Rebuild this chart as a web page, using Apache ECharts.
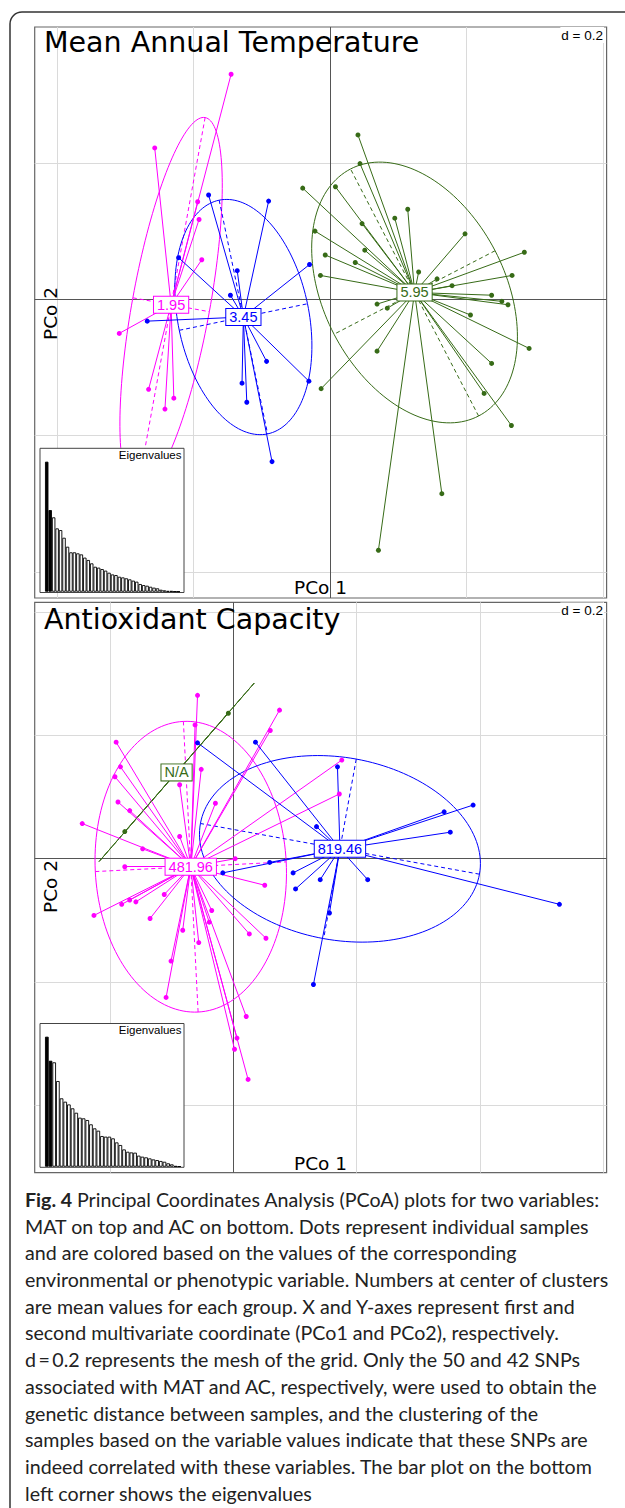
<!DOCTYPE html>
<html><head><meta charset="utf-8">
<script src="https://cdn.jsdelivr.net/npm/echarts@6/dist/echarts.min.js"></script>
<style>html,body{margin:0;padding:0;background:#fff}#c{width:625px;height:1508px}</style>
</head><body><div id="c"></div>
<script>
// ===== Panel 1: Mean Annual Temperature (PCo1 / PCo2 coordinates, grid mesh d = 0.2) =====
const matLabels = ['1.95', '3.45', '5.95'];
const matCenters = [[-0.233, -0.008], [-0.127, -0.026], [0.124, 0.010]];
const matMagenta = [[-0.145,0.330],[-0.257,0.222],[-0.194,0.143],[-0.192,0.117],[-0.188,0.058],[-0.309,-0.050],[-0.266,-0.132],[-0.229,-0.145],[-0.242,-0.161]];
const matBlue = [[-0.178,0.153],[-0.090,0.144],[-0.222,0.061],[-0.136,0.042],[-0.146,0.006],[-0.030,0.051],[-0.268,-0.032],[-0.093,-0.091],[-0.031,-0.120],[-0.129,-0.123],[-0.122,-0.151],[-0.085,-0.238]];
const matGreen = [[0.041,0.241],[0.044,0.199],[-0.040,0.163],[0.008,0.165],[0.114,0.132],[0.095,0.119],[0.047,0.111],[-0.022,0.100],[0.198,0.096],[0.051,0.072],[-0.007,0.065],[0.037,0.054],[0.285,0.069],[-0.014,0.035],[0.130,0.040],[0.157,0.030],[0.267,0.035],[0.179,0.020],[0.237,0.006],[0.252,-0.003],[0.261,-0.008],[0.206,-0.023],[0.069,-0.007],[0.084,-0.013],[0.292,-0.072],[0.069,-0.076],[0.237,-0.094],[-0.013,-0.131],[0.226,-0.138],[0.266,-0.185],[0.164,-0.285],[0.071,-0.368]];
// ellipse: [semi-major, semi-minor, angle of major axis in degrees]
const matEllipses = [[0.279, 0.057, 79.7], [0.175, 0.096, 101.7], [0.204, 0.133, -62.6]];
const matEigen = [1.000,0.628,0.572,0.487,0.474,0.415,0.346,0.303,0.303,0.295,0.287,0.262,0.244,0.218,0.192,0.185,0.174,0.162,0.146,0.133,0.128,0.115,0.110,0.103,0.095,0.085,0.077,0.059,0.051,0.046,0.038,0.031,0.026,0.015,0.010,0.005,0.005,0.002,0.001];

// ===== Panel 2: Antioxidant Capacity =====
const acLabels = ['481.96', '819.46', 'N/A'];
const acCenters = [[-0.069, -0.013], [0.173, 0.016], [-0.092, 0.140]];
const acMagenta = [[-0.058,0.265],[-0.062,0.217],[0.075,0.241],[0.060,0.208],[-0.190,0.189],[-0.183,0.149],[-0.192,0.133],[-0.052,0.145],[-0.087,0.120],[-0.187,0.092],[-0.168,0.078],[-0.029,0.090],[-0.245,0.057],[-0.087,0.036],[-0.147,0.016],[0.003,0.000],[-0.176,-0.013],[0.051,-0.043],[-0.226,-0.092],[-0.181,-0.074],[-0.168,-0.067],[-0.158,-0.070],[-0.112,-0.058],[-0.135,-0.097],[-0.035,-0.084],[-0.039,-0.103],[-0.082,-0.116],[-0.056,-0.136],[0.026,-0.122],[0.053,-0.129],[-0.101,-0.166],[-0.109,-0.225],[0.021,-0.256],[0.006,-0.291],[0.002,-0.309],[0.024,-0.358],[0.176,0.160],[0.172,0.105]];
const acBlue = [[-0.058,0.188],[0.036,0.189],[0.169,0.149],[0.135,0.052],[0.342,0.076],[0.389,0.087],[0.352,0.043],[0.059,-0.006],[-0.017,-0.023],[0.097,-0.023],[0.141,-0.034],[0.101,-0.049],[0.218,-0.034],[0.156,-0.088],[0.529,-0.074],[0.130,-0.204]];
const acGreen = [[-0.008,0.236],[-0.176,0.044]];
const acEllipses = [[0.236, 0.155, 92.9], [0.230, 0.148, -10.3], [0.192, 0, 49.0]];
const acEigen = [1.000,0.815,0.803,0.659,0.526,0.500,0.479,0.449,0.415,0.377,0.372,0.359,0.326,0.295,0.277,0.236,0.231,0.231,0.218,0.187,0.167,0.133,0.115,0.110,0.108,0.085,0.077,0.072,0.064,0.056,0.051,0.044,0.038,0.026,0.018,0.005,0.003];

// grid mesh positions (d = 0.2)
const grid1X = [-0.4, -0.2, 0.2, 0.4], grid1Y = [-0.4, -0.2, 0.2];
const grid2X = [-0.2, 0.2, 0.4, 0.6], grid2Y = [-0.4, -0.2, 0.2, 0.4];

const captionLines = [
  'Principal Coordinates Analysis (PCoA) plots for two variables:',
  'MAT on top and AC on bottom. Dots represent individual samples',
  'and are colored based on the values of the corresponding',
  'environmental or phenotypic variable. Numbers at center of clusters',
  'are mean values for each group. X and Y-axes represent first and',
  'second multivariate coordinate (PCo1 and PCo2), respectively.',
  'd\u2009=\u20090.2 represents the mesh of the grid. Only the 50 and 42 SNPs',
  'associated with MAT and AC, respectively, were used to obtain the',
  'genetic distance between samples, and the clustering of the',
  'samples based on the variable values indicate that these SNPs are',
  'indeed correlated with these variables. The bar plot on the bottom',
  'left corner shows the eigenvalues'
];

const MAG = '#ff00ff', BLU = '#0000ff', GRN = '#376b17';
const colors = [MAG, BLU, GRN];

function meshSeries(gi, xs, ys) {
  const ml = [];
  xs.forEach(v => ml.push({xAxis: v, lineStyle: {color: '#dadada', width: 1, type: 'solid'}}));
  ys.forEach(v => ml.push({yAxis: v, lineStyle: {color: '#dadada', width: 1, type: 'solid'}}));
  ml.push({xAxis: 0, lineStyle: {color: '#555', width: 1, type: 'solid'}});
  ml.push({yAxis: 0, lineStyle: {color: '#555', width: 1, type: 'solid'}});
  return {type: 'scatter', xAxisIndex: gi, yAxisIndex: gi, data: [[0, 0]], symbolSize: 0, silent: true, z: 1,
    markLine: {silent: true, symbol: ['none', 'none'], label: {show: false}, animation: false, data: ml, z: 1}};
}
function ellipseSeries(gi, center, e, color) {
  return {type: 'custom', xAxisIndex: gi, yAxisIndex: gi, silent: true, z: 2, data: [center],
    renderItem: function (params, api) {
      const a = e[0], b = e[1], th = e[2] * Math.PI / 180, c = Math.cos(th), s = Math.sin(th);
      const pts = [];
      for (let k = 0; k <= 160; k++) {
        const t = k / 160 * 2 * Math.PI, u = a * Math.cos(t), v = b * Math.sin(t);
        pts.push(api.coord([center[0] + u * c - v * s, center[1] + u * s + v * c]));
      }
      const a1 = api.coord([center[0] + a * c, center[1] + a * s]), a2 = api.coord([center[0] - a * c, center[1] - a * s]);
      const ch = [
        {type: 'polyline', shape: {points: pts}, style: {stroke: color, fill: 'none', lineWidth: 1}},
        {type: 'line', shape: {x1: a1[0], y1: a1[1], x2: a2[0], y2: a2[1]}, style: {stroke: color, lineWidth: 1, lineDash: [4, 3]}}
      ];
      if (b > 0) {
        const b1 = api.coord([center[0] - b * s, center[1] + b * c]), b2 = api.coord([center[0] + b * s, center[1] - b * c]);
        ch.push({type: 'line', shape: {x1: b1[0], y1: b1[1], x2: b2[0], y2: b2[1]}, style: {stroke: color, lineWidth: 1, lineDash: [4, 3]}});
      }
      return {type: 'group', children: ch};
    }};
}
function starSeries(gi, center, pts, color) {
  return {type: 'lines', coordinateSystem: 'cartesian2d', xAxisIndex: gi, yAxisIndex: gi, silent: true, z: 3,
    data: pts.map(p => ({coords: [center, p]})), lineStyle: {color: color, width: 1, opacity: 1}};
}
function pointSeries(gi, pts, color) {
  return {type: 'scatter', xAxisIndex: gi, yAxisIndex: gi, silent: true, z: 4, data: pts, symbol: 'circle', symbolSize: 5,
    itemStyle: {color: color, opacity: 1}};
}
function labelSeries(gi, center, txt, color) {
  return {type: 'scatter', xAxisIndex: gi, yAxisIndex: gi, silent: true, z: 6, data: [center], symbolSize: 1,
    itemStyle: {color: color, opacity: 1},
    label: {show: true, position: 'inside', formatter: txt, color: color, opacity: 1, fontSize: 14.5, fontFamily: '"Liberation Sans", Arial',
      backgroundColor: '#fff', borderColor: color, borderWidth: 1, padding: [1, 3, 0, 3], lineHeight: 15}};
}
function eigenSeries(gi, vals) {
  return {type: 'bar', xAxisIndex: gi, yAxisIndex: gi, silent: true, z: 60, barCategoryGap: 0,
    data: vals.map((v, i) => ({value: v, itemStyle: {color: i < 2 ? '#000' : '#fff'}})),
    itemStyle: {borderColor: '#000', borderWidth: 0.9, opacity: 1}};
}

const series = [meshSeries(0, grid1X, grid1Y), meshSeries(1, grid2X, grid2Y)];
const matPts = [matMagenta, matBlue, matGreen], acPts = [acMagenta, acBlue, acGreen];
[0, 1, 2].forEach(i => series.push(ellipseSeries(0, matCenters[i], matEllipses[i], colors[i])));
[0, 1, 2].forEach(i => series.push(ellipseSeries(1, acCenters[i], acEllipses[i], colors[i])));
[0, 1, 2].forEach(i => { series.push(starSeries(0, matCenters[i], matPts[i], colors[i])); series.push(pointSeries(0, matPts[i], colors[i])); });
[0, 1, 2].forEach(i => { series.push(starSeries(1, acCenters[i], acPts[i], colors[i])); series.push(pointSeries(1, acPts[i], colors[i])); });
[0, 1, 2].forEach(i => series.push(labelSeries(0, matCenters[i], matLabels[i], colors[i])));
[0, 1, 2].forEach(i => series.push(labelSeries(1, acCenters[i], acLabels[i], colors[i])));
series.push(eigenSeries(2, matEigen));
series.push(eigenSeries(3, acEigen));

// caption font fitting
const mctx = document.createElement('canvas').getContext('2d');
mctx.font = '100px Lato';
const fs = 585 / mctx.measureText(captionLines[3]).width * 100;
mctx.font = 'bold ' + fs + 'px Lato';
const boldW = mctx.measureText('Fig. 4 ').width;

const TXT = '#000';
const graphics = [
  {type: 'rect', shape: {x: 10, y: 12, width: 700, height: 1600, r: 12}, style: {fill: 'none', stroke: '#333', lineWidth: 1.5}, z: 0, silent: true},
  // eigenvalue inset frames
  {type: 'rect', shape: {x: 40, y: 448.3, width: 144, height: 144.2}, style: {fill: '#fff', stroke: '#444', lineWidth: 1}, z: 50, silent: true},
  {type: 'rect', shape: {x: 40, y: 1023.5, width: 144, height: 143.8}, style: {fill: '#fff', stroke: '#444', lineWidth: 1}, z: 50, silent: true},
  {type: 'text', x: 181.5, y: 455, z: 61, silent: true, style: {text: 'Eigenvalues', font: '11.5px "Liberation Sans"', fill: TXT, align: 'right', textAlign: 'right', verticalAlign: 'middle', textVerticalAlign: 'middle'}},
  {type: 'text', x: 181.5, y: 1030, z: 61, silent: true, style: {text: 'Eigenvalues', font: '11.5px "Liberation Sans"', fill: TXT, align: 'right', textAlign: 'right', verticalAlign: 'middle', textVerticalAlign: 'middle'}},
  // titles
  {type: 'text', x: 44, y: 42.5, z: 20, silent: true, style: {text: 'Mean Annual Temperature', font: '28.5px "DejaVu Sans"', fill: TXT, align: 'left', verticalAlign: 'middle', textVerticalAlign: 'middle'}},
  {type: 'text', x: 44, y: 619, z: 20, silent: true, style: {text: 'Antioxidant Capacity', font: '28.5px "DejaVu Sans"', fill: TXT, align: 'left', verticalAlign: 'middle', textVerticalAlign: 'middle'}},
  // mesh size
  {type: 'text', x: 604, y: 35, z: 20, silent: true, style: {text: 'd = 0.2', font: '13.5px "Liberation Sans"', fill: TXT, align: 'right', textAlign: 'right', verticalAlign: 'middle', textVerticalAlign: 'middle', backgroundColor: '#fff', padding: [1, 1]}},
  {type: 'text', x: 604, y: 610.5, z: 20, silent: true, style: {text: 'd = 0.2', font: '13.5px "Liberation Sans"', fill: TXT, align: 'right', textAlign: 'right', verticalAlign: 'middle', textVerticalAlign: 'middle', backgroundColor: '#fff', padding: [1, 1]}},
  // axis names
  {type: 'text', x: 320.5, y: 587.5, z: 20, silent: true, style: {text: 'PCo 1', font: '18.5px "DejaVu Sans"', fill: TXT, align: 'center', textAlign: 'center', verticalAlign: 'middle', textVerticalAlign: 'middle'}},
  {type: 'text', x: 320.5, y: 1163.5, z: 20, silent: true, style: {text: 'PCo 1', font: '18.5px "DejaVu Sans"', fill: TXT, align: 'center', textAlign: 'center', verticalAlign: 'middle', textVerticalAlign: 'middle'}},
  {type: 'text', x: 50, y: 313.5, rotation: Math.PI / 2, z: 20, silent: true, style: {text: 'PCo 2', font: '18.5px "DejaVu Sans"', fill: TXT, align: 'center', textAlign: 'center', verticalAlign: 'middle', textVerticalAlign: 'middle'}},
  {type: 'text', x: 50, y: 886.5, rotation: Math.PI / 2, z: 20, silent: true, style: {text: 'PCo 2', font: '18.5px "DejaVu Sans"', fill: TXT, align: 'center', textAlign: 'center', verticalAlign: 'middle', textVerticalAlign: 'middle'}},
  // caption
  {type: 'text', x: 25, y: 1199.3, z: 20, silent: true, style: {text: 'Fig. 4', font: 'bold ' + fs + 'px Lato', fill: '#222', align: 'left', verticalAlign: 'middle', textVerticalAlign: 'middle'}}
];
captionLines.forEach((t, i) => {
  graphics.push({type: 'text', x: 25 + (i === 0 ? boldW : 0), y: 1199.3 + i * 26.72, z: 20, silent: true,
    style: {text: t, font: fs + 'px Lato', fill: '#222', align: 'left', verticalAlign: 'middle', textVerticalAlign: 'middle'}});
});

const chart = echarts.init(document.getElementById('c'), null, {renderer: 'svg'});
chart.setOption({
  animation: false,
  backgroundColor: '#fff',
  grid: [
    {left: 34.7, top: 27, width: 571.9, height: 571, show: true, borderColor: '#666', borderWidth: 1.2, backgroundColor: 'transparent'},
    {left: 34.7, top: 602.3, width: 571.9, height: 570.4, show: true, borderColor: '#666', borderWidth: 1.2, backgroundColor: 'transparent'},
    {left: 45, top: 461.7, width: 135, height: 130, show: false},
    {left: 45, top: 1036.7, width: 136, height: 130, show: false}
  ],
  xAxis: [
    {gridIndex: 0, type: 'value', min: -0.4330, max: 0.4056, show: false},
    {gridIndex: 1, type: 'value', min: -0.3221, max: 0.6055, show: false},
    {gridIndex: 2, type: 'category', data: matEigen.map((v, i) => i + 1), show: false},
    {gridIndex: 3, type: 'category', data: acEigen.map((v, i) => i + 1), show: false}
  ],
  yAxis: [
    {gridIndex: 0, type: 'value', min: -0.4380, max: 0.3993, show: false},
    {gridIndex: 1, type: 'value', min: -0.5093, max: 0.4159, show: false},
    {gridIndex: 2, type: 'value', min: 0, max: 1, show: false},
    {gridIndex: 3, type: 'value', min: 0, max: 1, show: false}
  ],
  graphic: {elements: graphics},
  series: series
});
</script></body></html>
